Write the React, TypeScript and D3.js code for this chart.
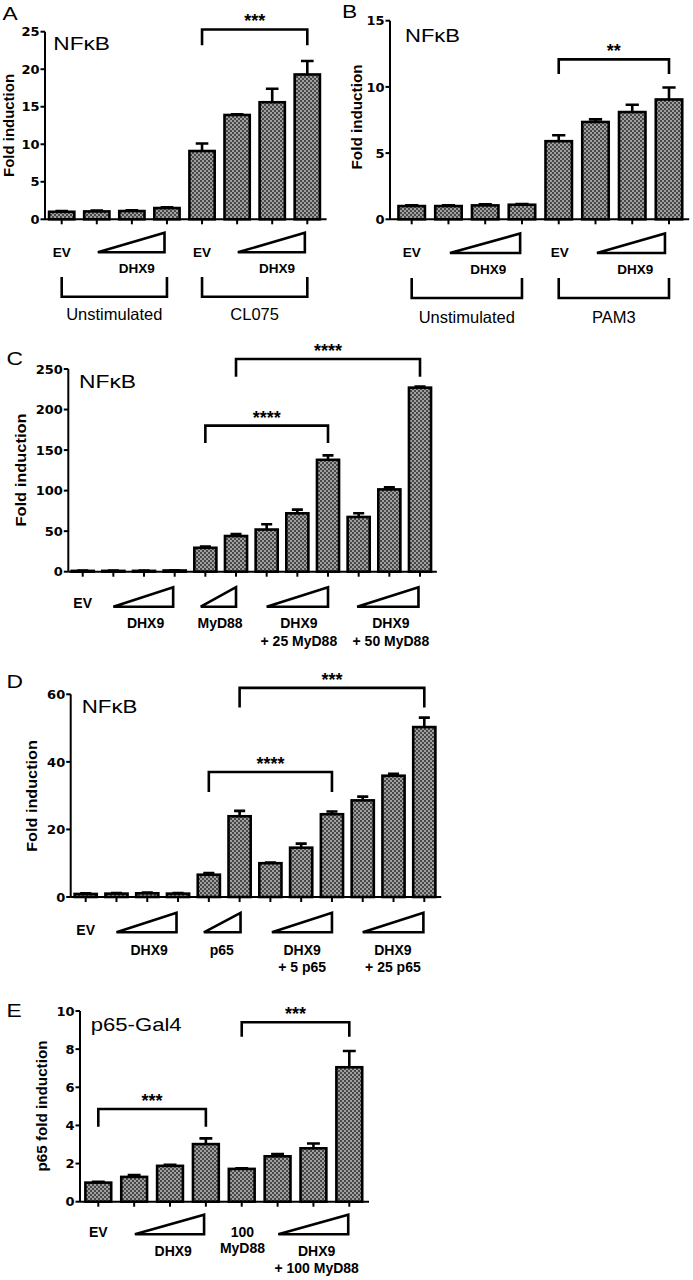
import React from "react";
import * as d3 from "d3";

const FONT = "'Liberation Sans', Arial, Helvetica, sans-serif";
const TICK_FONT = "'DejaVu Sans', 'Liberation Sans', sans-serif";

// ---- data ----
const aValues = [1.0, 1.05, 1.1, 1.5, 9.1, 13.9, 15.6, 19.3];
const aErrors = [0.1, 0.1, 0.1, 0.1, 1.0, 0.1, 1.8, 1.8];
const aTicks = [0, 5, 10, 15, 20, 25];

const bValues = [1.0, 1.0, 1.05, 1.1, 5.9, 7.35, 8.1, 9.05];
const bErrors = [0.05, 0.05, 0.08, 0.05, 0.45, 0.2, 0.55, 0.9];
const bTicks = [0, 5, 10, 15];

const cValues = [1, 1, 1, 1.5, 29.5, 44, 52, 72, 138, 67.5, 101.5, 227];
const cErrors = [0.3, 0.3, 0.3, 0.3, 1.5, 2.5, 6.5, 4.5, 5.5, 4.5, 2.5, 1.5];
const cTicks = [0, 50, 100, 150, 200, 250];

const dValues = [0.9, 1.0, 1.1, 1.0, 6.6, 23.9, 10.0, 14.6, 24.5, 28.6, 35.9, 50.3];
const dErrors = [0.2, 0.2, 0.2, 0.2, 0.5, 1.6, 0.2, 1.2, 0.8, 1.1, 0.6, 2.8];
const dTicks = [0, 20, 40, 60];

const eValues = [1.0, 1.3, 1.88, 3.02, 1.72, 2.38, 2.8, 7.05];
const eErrors = [0.05, 0.1, 0.05, 0.3, 0.03, 0.12, 0.25, 0.85];
const eTicks = [0, 2, 4, 6, 8, 10];

// significance brackets: [fromIndex, toIndex, top value, leg value, stars]
const aSig: [number, number, number, number, string][] = [[4, 7, 25.3, 23.2, "***"]];
const bSig: [number, number, number, number, string][] = [[4, 7, 12.08, 10.97, "**"]];
const cSig: [number, number, number, number, string][] = [
  [5, 11, 262.4, 240.5, "****"],
  [4, 8, 180.1, 158.7, "****"],
];
const dSig: [number, number, number, number, string][] = [
  [5, 11, 61.9, 56.1, "***"],
  [4, 8, 37, 31.1, "****"],
];
const eSig: [number, number, number, number, string][] = [
  [4, 7, 9.41, 8.65, "***"],
  [0, 3, 4.86, 3.93, "***"],
];

// dose ramps (index ranges)
const aRamps = [[1.03, 2.93], [5.02, 6.93]];
const bRamps = [[1.04, 2.95], [5.04, 6.89]];
const cRamps = [[1, 2.95], [3.85, 5], [6, 8], [8.95, 10.95]];
const dRamps = [[1, 2.95], [3.84, 5.03], [6.05, 8], [9, 10.97]];
const eRamps = [[1.02, 2.95], [5.02, 6.97]];

// group labels: [text lines, index position]
const aLabels: [string[], number][] = [[["EV"], 0], [["DHX9"], 2.14], [["EV"], 4], [["DHX9"], 6.14]];
const bLabels: [string[], number][] = [[["EV"], 0], [["DHX9"], 2.08], [["EV"], 4.03], [["DHX9"], 6.08]];
const cLabels: [string[], number][] = [
  [["EV"], 0],
  [["DHX9"], 2.05],
  [["MyD88"], 4.48],
  [["DHX9", "+ 25 MyD88"], 7.05],
  [["DHX9", "+ 50 MyD88"], 10.05],
];
const dLabels: [string[], number][] = [
  [["EV"], 0],
  [["DHX9"], 2.06],
  [["p65"], 4.42],
  [["DHX9", "+ 5 p65"], 7.03],
  [["DHX9", "+ 25 p65"], 9.98],
];
const eLabels: [string[], number][] = [
  [["EV"], 0],
  [["DHX9"], 2.09],
  [["100", "MyD88"], 4.02],
  [["DHX9", "+ 100 MyD88"], 6.09],
];

const aTreat: [string, number, number][] = [["Unstimulated", 0, 3], ["CL075", 4, 7]];
const bTreat: [string, number, number][] = [["Unstimulated", 0, 3], ["PAM3", 4, 7]];

interface PanelProps {
  letter: string;
  letterPos: [number, number];
  title: string;
  titlePos: [number, number, number];
  yLabel: string;
  yLabelPos: [number, number, number];
  yLabelSize: number;
  values: number[];
  errors: number[];
  ticks: number[];
  axisX: number;
  x0: number;
  x1: number;
  y0: number;
  yTop: number;
  sig: [number, number, number, number, string][];
  ramps: number[][];
  rampBottom: number;
  labels: [string[], number][];
  labelBase: [number, number, number]; // EV baseline, first line, second line
  labelSize: number;
  treat?: [string, number, number][];
  treatY?: [number, number, number];
}

function Panel(p: PanelProps) {
  const n = p.values.length;
  const yMax = p.ticks[p.ticks.length - 1];
  const x = d3.scaleLinear().domain([0, n - 1]).range([p.x0, p.x1]);
  const y = d3.scaleLinear().domain([0, yMax]).range([p.y0, p.yTop]);
  const step = (p.x1 - p.x0) / (n - 1);
  const barW = step * 0.72;
  const capW = barW * 0.5;
  const sw = 2.6;

  const ramp = d3.line<[number, number]>();

  return (
    <g>
      <text
        transform={`translate(${p.letterPos[0]},${p.letterPos[1]}) scale(1.2,1)`}
        fontFamily={FONT}
        fontSize={19}
      >
        {p.letter}
      </text>
      <text
        x={p.titlePos[0]}
        y={p.titlePos[1]}
        fontFamily={FONT}
        fontSize={19}
        textLength={p.titlePos[2]}
        lengthAdjust="spacingAndGlyphs"
      >
        {p.title}
      </text>
      <text
        transform={`translate(${p.yLabelPos[0]},${p.yLabelPos[1]}) rotate(-90)`}
        textAnchor="middle"
        fontFamily={FONT}
        fontWeight="bold"
        fontSize={p.yLabelSize}
        textLength={p.yLabelPos[2]}
        lengthAdjust="spacingAndGlyphs"
      >
        {p.yLabel}
      </text>

      {/* bars */}
      {p.values.map((v, i) => (
        <g key={i}>
          <path
            d={`M${x(i)},${y(v)}V${y(v + p.errors[i])}M${x(i) - capW / 2},${y(v + p.errors[i])}H${x(i) + capW / 2}`}
            stroke="#000"
            strokeWidth={sw}
            fill="none"
          />
          <rect
            x={x(i) - barW / 2}
            y={y(v)}
            width={barW}
            height={y(0) - y(v)}
            fill="url(#hatch)"
            stroke="#000"
            strokeWidth={sw}
          />
        </g>
      ))}

      {/* axes */}
      <line x1={p.axisX} x2={p.axisX} y1={y(0)} y2={y(yMax)} stroke="#000" strokeWidth={2} />
      <line x1={p.axisX} x2={p.x1 + step * 0.55} y1={y(0)} y2={y(0)} stroke="#000" strokeWidth={2} />
      {p.ticks.map((t) => (
        <g key={t}>
          <line x1={p.axisX - 4.5} x2={p.axisX} y1={y(t)} y2={y(t)} stroke="#000" strokeWidth={2} />
          <text
            x={p.axisX - 5.5}
            y={y(t) + 4.7}
            textAnchor="end"
            fontFamily={TICK_FONT}
            fontWeight="bold"
            fontSize={13}
          >
            {t}
          </text>
        </g>
      ))}
      {p.values.map((_, i) => (
        <line key={i} x1={x(i)} x2={x(i)} y1={y(0)} y2={y(0) + 5} stroke="#000" strokeWidth={2} />
      ))}

      {/* significance */}
      {p.sig.map(([a, b, top, leg, stars], k) => (
        <g key={k}>
          <path
            d={`M${x(a)},${y(leg)}V${y(top)}H${x(b)}V${y(leg)}`}
            stroke="#000"
            strokeWidth={sw}
            fill="none"
          />
          <text
            x={(x(a) + x(b)) / 2}
            y={y(top) - 2}
            textAnchor="middle"
            fontFamily={FONT}
            fontWeight="bold"
            fontSize={18}
          >
            {stars}
          </text>
        </g>
      ))}

      {/* dose ramps */}
      {p.ramps.map(([a, b], k) => (
        <path
          key={k}
          d={
            ramp([
              [x(a), p.rampBottom],
              [x(b), p.rampBottom - 19.5],
              [x(b), p.rampBottom],
            ]) + "Z"
          }
          stroke="#000"
          strokeWidth={sw}
          strokeLinejoin="miter"
          fill="#fff"
        />
      ))}

      {/* group labels */}
      {p.labels.map(([lines, at], k) => {
        const isEV = lines[0] === "EV" || lines[0] === "100";
        return (
          <text
            key={k}
            textAnchor="middle"
            fontFamily={FONT}
            fontWeight="bold"
            fontSize={p.labelSize}
          >
            {lines.map((ln, j) => (
              <tspan
                key={j}
                x={x(at)}
                y={isEV ? p.labelBase[0] + j * (p.labelBase[2] - p.labelBase[1]) : j === 0 ? p.labelBase[1] : p.labelBase[2]}
              >
                {ln}
              </tspan>
            ))}
          </text>
        );
      })}

      {/* treatment brackets */}
      {p.treat &&
        p.treatY &&
        p.treat.map(([name, a, b], k) => (
          <g key={k}>
            <path
              d={`M${x(a)},${p.treatY![0]}V${p.treatY![1]}H${x(b)}V${p.treatY![0]}`}
              stroke="#000"
              strokeWidth={sw}
              fill="none"
            />
            <text
              x={(x(a) + x(b)) / 2}
              y={p.treatY![2]}
              textAnchor="middle"
              fontFamily={FONT}
              fontSize={16.5}
            >
              {name}
            </text>
          </g>
        ))}
    </g>
  );
}

export default function App() {
  return (
    <svg
      width={693}
      height={1280}
      style={{ position: "absolute", left: 0, top: 0, background: "#fff" }}
    >
      <defs>
        <pattern id="hatch" width={4} height={4} patternUnits="userSpaceOnUse">
          <rect width={4} height={4} fill="#a0a0a0" />
          <rect width={2} height={2} fill="#484848" />
          <rect x={2} y={2} width={2} height={2} fill="#484848" />
        </pattern>
      </defs>
      <rect width={693} height={1280} fill="#fff" />

      <Panel
        letter="A"
        letterPos={[2.5, 20]}
        title="NFκB"
        titlePos={[53.3, 49.5, 56.7]}
        yLabel="Fold induction"
        yLabelPos={[13.5, 125.5, 103]}
        yLabelSize={14}
        values={aValues}
        errors={aErrors}
        ticks={aTicks}
        axisX={45}
        x0={61.7}
        x1={307.3}
        y0={219.3}
        yTop={31.7}
        sig={aSig}
        ramps={aRamps}
        rampBottom={252.3}
        labels={aLabels}
        labelBase={[256.7, 273.3, 290]}
        labelSize={13.5}
        treat={aTreat}
        treatY={[277, 296.7, 320]}
      />
      <Panel
        letter="B"
        letterPos={[342, 17.5]}
        title="NFκB"
        titlePos={[405, 42.3, 55]}
        yLabel="Fold induction"
        yLabelPos={[361.5, 117, 105]}
        yLabelSize={14}
        values={bValues}
        errors={bErrors}
        ticks={bTicks}
        axisX={390}
        x0={411.7}
        x1={669}
        y0={219.3}
        yTop={20.7}
        sig={bSig}
        ramps={bRamps}
        rampBottom={253}
        labels={bLabels}
        labelBase={[256.5, 274, 290]}
        labelSize={13.5}
        treat={bTreat}
        treatY={[278, 298, 323]}
      />
      <Panel
        letter="C"
        letterPos={[6.5, 365]}
        title="NFκB"
        titlePos={[79, 388.3, 57]}
        yLabel="Fold induction"
        yLabelPos={[25.5, 470, 113]}
        yLabelSize={15}
        values={cValues}
        errors={cErrors}
        ticks={cTicks}
        axisX={68.3}
        x0={82.7}
        x1={420}
        y0={571.7}
        yTop={369}
        sig={cSig}
        ramps={cRamps}
        rampBottom={606.7}
        labels={cLabels}
        labelBase={[608, 628.3, 646]}
        labelSize={14}
      />
      <Panel
        letter="D"
        letterPos={[6.5, 688.3]}
        title="NFκB"
        titlePos={[81.7, 713.3, 55.7]}
        yLabel="Fold induction"
        yLabelPos={[36.5, 796, 111.7]}
        yLabelSize={15}
        values={dValues}
        errors={dErrors}
        ticks={dTicks}
        axisX={70.7}
        x0={85.7}
        x1={424.3}
        y0={897}
        yTop={694.3}
        sig={dSig}
        ramps={dRamps}
        rampBottom={932.3}
        labels={dLabels}
        labelBase={[935, 955, 971.7]}
        labelSize={14}
      />
      <Panel
        letter="E"
        letterPos={[6.5, 1016.7]}
        title="p65-Gal4"
        titlePos={[90.7, 1030.7, 91]}
        yLabel="p65 fold induction"
        yLabelPos={[47, 1106, 131]}
        yLabelSize={14}
        values={eValues}
        errors={eErrors}
        ticks={eTicks}
        axisX={80}
        x0={98.3}
        x1={349.3}
        y0={1201.7}
        yTop={1011}
        sig={eSig}
        ramps={eRamps}
        rampBottom={1234.3}
        labels={eLabels}
        labelBase={[1236.7, 1256, 1272.7]}
        labelSize={14}
      />
    </svg>
  );
}
